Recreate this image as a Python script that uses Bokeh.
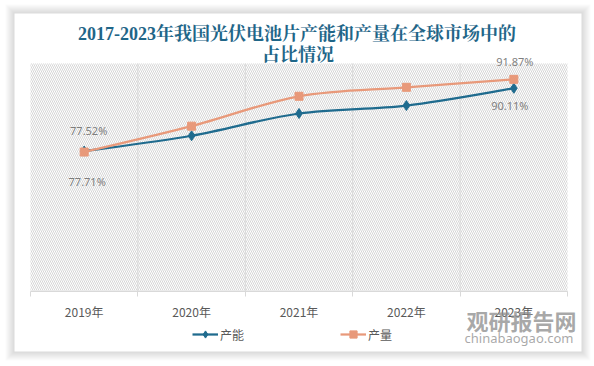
from bokeh.plotting import figure
from bokeh.models import FixedTicker, BoxAnnotation, Legend, LegendItem, Label
from bokeh.embed import file_html
from bokeh.resources import INLINE

# ---- data ----
years = ["2019年", "2020年", "2021年", "2022年", "2023年"]
capacity_share = [77.71, 80.74, 85.13, 86.70, 90.11]   # 产能 (%)
output_share = [77.52, 82.63, 88.53, 90.30, 91.87]     # 产量 (%)
series_names = ["产能", "产量"]
title_line1 = "2017-2023年我国光伏电池片产能和产量在全球市场中的"
title_line2 = "占比情况"
watermark_cn = "观研报告网"
watermark_en = "chinabaogao.com"
Y_MIN, Y_MAX = 50, 95          # value-axis bounds of the plot area

# ---- styles ----
BLUE = "#1f6b8e"
ORANGE = "#e8997a"
TITLE_COLOR = "#1f6688"
GRID = "#d9d9d9"
TXT = "#595959"
LBL = "#7f7f7f"
CJK = "Noto Sans CJK SC"
TFONT = "Liberation Serif, Noto Serif CJK SC, Noto Sans CJK SC"

xs = list(range(len(years)))
n = len(years)

p = figure(width=594, height=366, title=None,
           x_range=(-0.779, n - 0.249), y_range=(35.2, 107.43),
           output_backend="svg", toolbar_location=None,
           y_axis_location=None,
           min_border_left=0, min_border_right=0,
           min_border_top=0, min_border_bottom=0)
p.outline_line_color = None
p.background_fill_color = "white"
p.border_fill_color = "white"

# card with soft shadow (screen units, frame = whole canvas)
SCR = dict(left_units="screen", right_units="screen",
           top_units="screen", bottom_units="screen")
CARD = dict(left=14, right=581, top=353, bottom=15)
for k in range(9, 0, -1):
    p.add_layout(BoxAnnotation(left=CARD["left"] - k, right=CARD["right"] + k,
                               top=CARD["top"] + k, bottom=CARD["bottom"] - k,
                               fill_color="black", fill_alpha=0.016,
                               line_color=None, level="image", **SCR))
p.add_layout(BoxAnnotation(**CARD, fill_color="white", fill_alpha=1,
                           line_color=None, level="image", **SCR))

# title (two centred lines)
t_kw = dict(x_units="screen", y_units="screen", text_align="center",
            text_baseline="middle", text_font=TFONT, text_font_size="18px",
            text_font_style="bold", text_color=TITLE_COLOR)
p.add_layout(Label(x=296.5, y=333, text=title_line1, **t_kw))
p.add_layout(Label(x=297.5, y=312, text=title_line2, **t_kw))

# hatched plot area
p.add_layout(BoxAnnotation(left=-0.5, right=n - 0.5, bottom=Y_MIN, top=Y_MAX,
                           fill_color=None, line_color=None,
                           hatch_pattern="\\", hatch_color="#d6d6d6",
                           hatch_scale=4, hatch_weight=1, level="image"))

# vertical separators between categories
bounds_mid = [i + 0.5 for i in range(n - 1)]
p.segment(x0=bounds_mid, y0=[Y_MIN] * len(bounds_mid), x1=bounds_mid,
          y1=[Y_MAX] * len(bounds_mid), line_color=GRID, line_width=1, level="underlay")
p.xgrid.visible = False
p.ygrid.visible = False

# x axis at the bottom of the plot area
p.xaxis.fixed_location = Y_MIN
p.xaxis.bounds = (-0.5, n - 0.5)
p.xaxis.ticker = FixedTicker(ticks=xs, minor_ticks=[i - 0.5 for i in range(n + 1)])
p.xaxis.major_label_overrides = {i: y for i, y in enumerate(years)}
p.xaxis.major_tick_line_color = None
p.xaxis.major_tick_out = 0
p.xaxis.major_tick_in = 0
p.xaxis.minor_tick_in = 0
p.xaxis.minor_tick_out = 5
p.xaxis.minor_tick_line_color = GRID
p.xaxis.axis_line_color = GRID
p.xaxis.major_label_text_font = CJK
p.xaxis.major_label_text_font_size = "12px"
p.xaxis.major_label_text_color = TXT
p.xaxis.major_label_standoff = 6


def smooth(vals):
    m = len(vals)
    seg = dict(x0=[], y0=[], x1=[], y1=[], cx0=[], cy0=[], cx1=[], cy1=[])
    for i in range(m - 1):
        im = i - 1 if i > 0 else i
        ip = i + 2 if i + 2 < m else i + 1
        seg["x0"].append(i)
        seg["y0"].append(vals[i])
        seg["x1"].append(i + 1)
        seg["y1"].append(vals[i + 1])
        seg["cx0"].append(i + (i + 1 - im) / 6)
        seg["cy0"].append(vals[i] + (vals[i + 1] - vals[im]) / 6)
        seg["cx1"].append(i + 1 - (ip - i) / 6)
        seg["cy1"].append(vals[i + 1] - (vals[ip] - vals[i]) / 6)
    return seg


b1 = p.bezier(**smooth(capacity_share), line_color=BLUE, line_width=2.25)
d1 = p.scatter(xs, capacity_share, marker="diamond", size=10, color=BLUE)
b2 = p.bezier(**smooth(output_share), line_color=ORANGE, line_width=2.25)
s2 = p.scatter(xs, output_share, marker="square", size=8, color=ORANGE)

legend = Legend(items=[LegendItem(label=series_names[0], renderers=[b1, d1]),
                       LegendItem(label=series_names[1], renderers=[b2, s2])],
                orientation="horizontal", location=(192, 23),
                spacing=96, glyph_width=26, glyph_height=18, label_standoff=2,
                label_text_font=CJK, label_text_font_size="12px",
                label_text_color=TXT, border_line_color=None,
                background_fill_alpha=0, margin=0, padding=4)
p.add_layout(legend)

# data labels
last = n - 1
lab_kw = dict(text_align="center", text_baseline="middle", text_font_size="11px",
              text_color=LBL, text_font="Noto Sans")
p.add_layout(Label(x=0, y=output_share[0], text=f"{output_share[0]:.2f}%",
                   x_offset=4.5, y_offset=21.5, **lab_kw))
p.add_layout(Label(x=0, y=capacity_share[0], text=f"{capacity_share[0]:.2f}%",
                   x_offset=3, y_offset=-30, **lab_kw))
p.add_layout(Label(x=last, y=output_share[last], text=f"{output_share[last]:.2f}%",
                   x_offset=1, y_offset=17.5, **lab_kw))
p.add_layout(Label(x=last, y=capacity_share[last], text=f"{capacity_share[last]:.2f}%",
                   x_offset=-4, y_offset=-17.5, **lab_kw))

# watermark
p.add_layout(Label(x=521, y=47, x_units="screen", y_units="screen", text=watermark_cn,
                   text_align="center", text_baseline="middle", text_font=CJK,
                   text_font_size="22px", text_font_style="bold",
                   text_color="#8c8c8c", text_alpha=0.75))
p.add_layout(Label(x=518.5, y=29, x_units="screen", y_units="screen", text=watermark_en,
                   text_align="center", text_baseline="middle", text_font="Noto Sans",
                   text_font_size="13px", text_color="#8c8c8c", text_alpha=0.75))

open("out.html", "w").write(file_html(p, INLINE))
